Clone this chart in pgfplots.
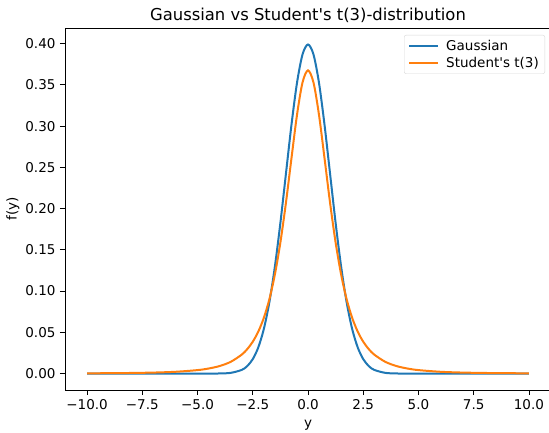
\documentclass[border=0pt]{standalone}
\usepackage{pgfplots}
\pgfplotsset{compat=1.18}
\usepackage{fontspec}
\setmainfont{DejaVu Sans}
\definecolor{tabblue}{HTML}{1F77B4}
\definecolor{taborange}{HTML}{FF7F0E}
\begin{document}
\begin{tikzpicture}
\begin{axis}[
  scale only axis,
  width=486pt, height=362pt,
  xmin=-11, xmax=11, ymin=-0.0199, ymax=0.4189,
  xtick={-10,-7.5,-5,-2.5,0,2.5,5,7.5,10},
  xticklabels={−10.0,−7.5,−5.0,−2.5,0.0,2.5,5.0,7.5,10.0},
  ytick={0,0.05,0.1,0.15,0.2,0.25,0.3,0.35,0.4},
  yticklabels={0.00,0.05,0.10,0.15,0.20,0.25,0.30,0.35,0.40},
  tick align=outside, tick pos=left,
  major tick length=5pt,
  every tick/.style={black, line width=0.8pt},
  axis line style={black, line width=0.8pt},
  tick label style={font=\fontsize{13.5}{15}\selectfont},
  xticklabel style={yshift=-1pt},
  yticklabel style={xshift=-1pt},
  label style={font=\fontsize{13.5}{15}\selectfont},
  xlabel={y}, ylabel={f(y)},
  xlabel style={yshift=-4pt},
  ylabel style={yshift=-1pt},
  title={Gaussian vs Student\textquotesingle s t(3)-distribution},
  title style={font=\fontsize{16.4}{18}\selectfont, yshift=-4pt},
  legend style={at={(1,1)}, anchor=north east, xshift=-6pt, yshift=-7pt,
    draw=black!15, rounded corners=2pt, font=\fontsize{13.5}{15}\selectfont,
    row sep=1pt, inner xsep=4pt, inner ysep=3pt},
  legend cell align=left,
  clip=false,
]
\addplot[tabblue, line width=2pt, smooth,
  legend image code/.code={\draw[tabblue, line width=2pt] (0pt,0pt) -- (29pt,0pt); \path (34pt,0pt);}] coordinates {
(-10,0) (-9,0) (-8,0) (-7,0) (-6,0) (-5,0.0000015) (-4.5,0.000016) (-4,0.000134) (-3.5,0.00087)
(-3,0.00443) (-2.75,0.00909) (-2.5,0.01753) (-2.25,0.03174) (-2,0.05399) (-1.75,0.08628)
(-1.5,0.12952) (-1.25,0.18265) (-1,0.24197) (-0.75,0.30114) (-0.5,0.35207) (-0.25,0.38667)
(0,0.39894)
(0.25,0.38667) (0.5,0.35207) (0.75,0.30114) (1,0.24197) (1.25,0.18265) (1.5,0.12952)
(1.75,0.08628) (2,0.05399) (2.25,0.03174) (2.5,0.01753) (2.75,0.00909) (3,0.00443)
(3.5,0.00087) (4,0.000134) (4.5,0.000016) (5,0.0000015) (6,0) (7,0) (8,0) (9,0) (10,0)
};
\addlegendentry{Gaussian}
\addplot[taborange, line width=2pt, smooth,
  legend image code/.code={\draw[taborange, line width=2pt] (0pt,0pt) -- (29pt,0pt); \path (34pt,0pt);}] coordinates {
(-10,0.000312) (-9,0.000469) (-8,0.000737) (-7,0.00122) (-6,0.00217) (-5,0.00422)
(-4.5,0.00612) (-4,0.00916) (-3.5,0.01422) (-3,0.02297) (-2.75,0.02965) (-2.5,0.03866)
(-2.25,0.05089) (-2,0.06751) (-1.75,0.09000) (-1.5,0.12002) (-1.25,0.15891) (-1,0.20675)
(-0.75,0.26064) (-0.5,0.31318) (-0.25,0.35270) (0,0.36755)
(0.25,0.35270) (0.5,0.31318) (0.75,0.26064) (1,0.20675) (1.25,0.15891) (1.5,0.12002)
(1.75,0.09000) (2,0.06751) (2.25,0.05089) (2.5,0.03866) (2.75,0.02965) (3,0.02297)
(3.5,0.01422) (4,0.00916) (4.5,0.00612) (5,0.00422) (6,0.00217) (7,0.00122)
(8,0.000737) (9,0.000469) (10,0.000312)
};
\addlegendentry{Student\textquotesingle s t(3)}
\end{axis}
\pgfresetboundingbox
\path[use as bounding box] ([shift={(-65pt,-43pt)}]current axis.south west) rectangle ([shift={(-2pt,28pt)}]current axis.north east);
\end{tikzpicture}
\end{document}
